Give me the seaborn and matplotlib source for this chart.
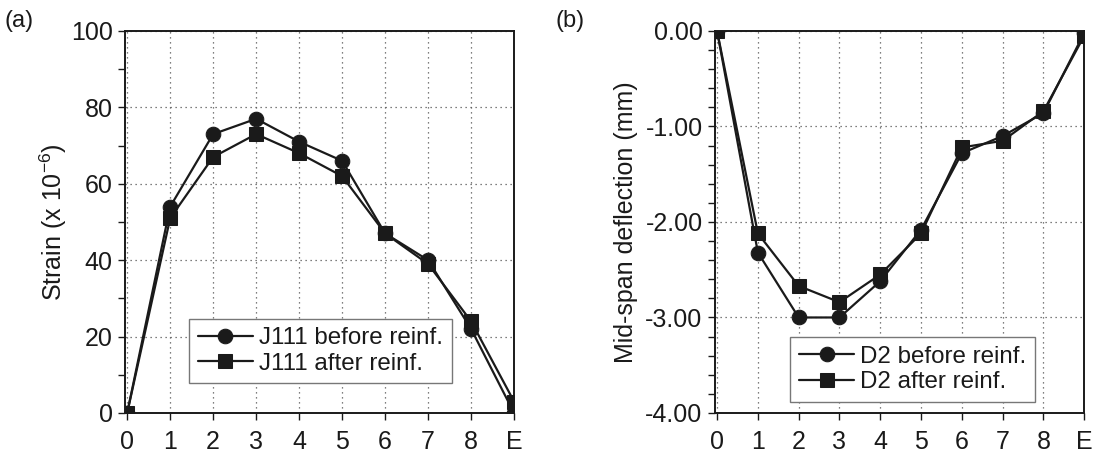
import matplotlib
matplotlib.use("Agg")
import matplotlib.pyplot as plt
import seaborn as sns
import pandas as pd
from matplotlib.ticker import MultipleLocator, FormatStrFormatter

stages = ["0", "1", "2", "3", "4", "5", "6", "7", "8", "E"]
strain_before = [0, 54, 73, 77, 71, 66, 47, 40, 22, 0]
strain_after = [0, 51, 67, 73, 68, 62, 47, 39, 24, 3]
defl_before = [0.0, -2.32, -3.0, -3.0, -2.62, -2.08, -1.28, -1.10, -0.86, -0.02]
defl_after = [0.0, -2.12, -2.67, -2.84, -2.55, -2.12, -1.22, -1.15, -0.84, -0.05]
labels_a = ["J111 before reinf.", "J111 after reinf."]
labels_b = ["D2 before reinf.", "D2 after reinf."]

sns.set_theme(style="ticks")
plt.rcParams["font.family"] = ["Liberation Sans", "DejaVu Sans"]
plt.rcParams["axes.unicode_minus"] = False
plt.rcParams["mathtext.fontset"] = "custom"
plt.rcParams["mathtext.rm"] = "Liberation Sans"
plt.rcParams["mathtext.it"] = "Liberation Sans"

FS = 18
LFS = 17.4

def make_df(before, after, labels):
    n = len(stages)
    return pd.DataFrame({
        "x": list(range(n)) * 2,
        "y": list(before) + list(after),
        "series": [labels[0]] * n + [labels[1]] * n,
    })

fig = plt.figure(figsize=(10.94, 4.57), dpi=100)
ax_a = fig.add_axes([0.1143, 0.0963, 0.3556, 0.836])
ax_b = fig.add_axes([0.6536, 0.0963, 0.3375, 0.836])

def draw(ax, df, labels, ylim, major, minor, fmt, ylabel, labelpad, legend_box):
    sns.lineplot(data=df, x="x", y="y", hue="series", style="series",
                 hue_order=labels, style_order=labels,
                 palette=["#1a1a1a", "#1a1a1a"], markers=["o", "s"], dashes=False,
                 markersize=10.5, markeredgecolor="#1a1a1a", linewidth=1.6,
                 ax=ax, legend=True, zorder=3)
    ax.set_xlim(-0.05, 9.0)
    ax.set_ylim(*ylim)
    ax.set_xticks(range(len(stages)))
    ax.set_xticklabels(stages)
    ax.yaxis.set_major_locator(MultipleLocator(major))
    ax.yaxis.set_minor_locator(MultipleLocator(minor))
    ax.yaxis.set_major_formatter(FormatStrFormatter(fmt))
    ax.tick_params(axis="both", which="major", direction="out", length=5,
                   width=1, labelsize=FS, colors="#1a1a1a", pad=4)
    ax.tick_params(axis="y", which="minor", direction="out", length=5, width=1,
                   colors="#1a1a1a")
    ax.tick_params(axis="x", pad=7)
    ax.grid(True, which="major", axis="both", linestyle=(0, (1, 3)),
            color="#555555", linewidth=0.9)
    for s in ax.spines.values():
        s.set_visible(True)
        s.set_color("#1a1a1a")
        s.set_linewidth(1.4)
    ax.set_xlabel("")
    ax.set_ylabel(ylabel, fontsize=FS, color="#1a1a1a", labelpad=labelpad)
    for lbl in ax.get_xticklabels() + ax.get_yticklabels():
        lbl.set_color("#1a1a1a")
    handles, lab = ax.get_legend_handles_labels()
    leg = ax.legend(handles, lab, loc="lower left", bbox_to_anchor=legend_box,
                    fontsize=LFS, frameon=True, fancybox=False, framealpha=1,
                    edgecolor="#777777", handlelength=2.3, handletextpad=0.25,
                    borderpad=0.35, labelspacing=0.15, borderaxespad=0)
    leg.get_frame().set_linewidth(1.0)
    for t in leg.get_texts():
        t.set_color("#1a1a1a")

draw(ax_a, make_df(strain_before, strain_after, labels_a), labels_a,
     (0, 100), 20, 10, "%d", "Strain (x 10$^{-6}$)", 1, (0.165, 0.078))
draw(ax_b, make_df(defl_before, defl_after, labels_b), labels_b,
     (-4.0, 0.0), 1.0, 0.2, "%.2f", "Mid-span deflection (mm)", 5, (0.204, 0.029))

fig.text(0.004, 0.955, "(a)", fontsize=FS - 1, color="#1a1a1a", va="center")
fig.text(0.508, 0.955, "(b)", fontsize=FS - 1, color="#1a1a1a", va="center")

fig.savefig("out.png", dpi=100)
